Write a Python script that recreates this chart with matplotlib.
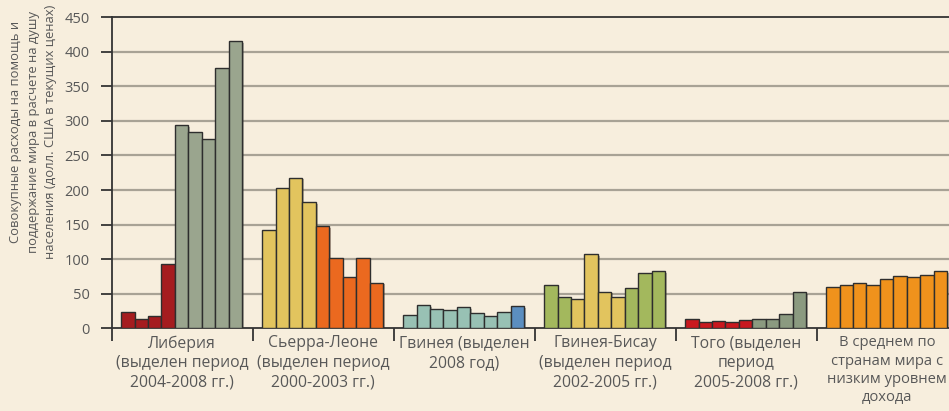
import numpy as np
import matplotlib
matplotlib.use('Agg')
import matplotlib.pyplot as plt
import matplotlib.patheffects as pe

plt.rcParams['font.family'] = ['Open Sans', 'DejaVu Sans']

# values per group (USD per capita)
liberia = [24, 13, 18, 93, 294, 284, 274, 376, 415]
sierra = [142, 203, 218, 182, 148, 101, 74, 101, 66]
guinea = [19, 33, 28, 27, 31, 22, 18, 24, 32]
bissau = [62, 45, 43, 107, 53, 45, 58, 80, 83]
togo = [13, 9, 10, 9, 12, 14, 13, 20, 52]
lowinc = [60, 62, 65, 63, 71, 75, 74, 77, 83]

groups = [liberia, sierra, guinea, bissau, togo, lowinc]
colors = [
    ['#a51c1f'] * 4 + ['#9aa58e'] * 5,
    ['#e2c45e'] * 4 + ['#eb691f'] * 5,
    ['#98c1b4'] * 8 + ['#5b8ec0'],
    ['#a3b85d'] * 2 + ['#e2c45e'] * 4 + ['#a3b85d'] * 3,
    ['#c9181f'] * 5 + ['#8b9a80'] * 4,
    ['#f0921c'] * 9,
]
labels = [
    'Либерия\n(выделен период\n2004-2008 гг.)',
    'Сьерра-Леоне\n(выделен период\n2000-2003 гг.)',
    'Гвинея (выделен\n2008 год)',
    'Гвинея-Бисау\n(выделен период\n2002-2005 гг.)',
    'Того (выделен\nпериод\n2005-2008 гг.)',
    'В среднем по\nстранам мира с\nнизким уровнем\nдохода',
]
ylab = ('Совокупные расходы на помощь и\n'
        'поддержание мира в расчете на душу\n'
        'населения (долл. США в текущих ценах)')

bg = '#f7eedd'
txt = '#585858'
gw = 10.5   # group width in bar units
off = 0.7

fig = plt.figure(figsize=(9.49, 4.11), dpi=100, facecolor=bg)
ax = fig.add_axes([0.1177, 0.2012, 0.8823, 0.757], facecolor=bg)

for g, (vals, cols) in enumerate(zip(groups, colors)):
    x = g * gw + off + np.arange(len(vals))
    bars = ax.bar(x, vals, width=1.0, align='edge', color=cols,
                  edgecolor='#2e2e2e', linewidth=1.0, zorder=3)
    for b in bars:
        b.set_path_effects([pe.SimplePatchShadow(offset=(1.2, -1.2), alpha=0.35),
                            pe.Normal()])

ax.set_xlim(0, 837.3 / 13.43)
ax.set_ylim(0, 450)
ax.set_yticks(np.arange(0, 451, 50))
for yv in range(50, 401, 50):
    ax.axhline(yv, color='#a8a295', lw=1.6, zorder=1)

ax.set_xticks([gw * k for k in range(1, 6)] + [0])
ax.set_xticklabels([])
ax.set_xticks([gw * k + gw / 2 for k in range(6)], minor=True)
tl = ax.set_xticklabels(labels, minor=True, fontsize=11.3, color=txt, linespacing=1.3)
tl[-1].set_fontsize(10.6)
ax.tick_params(axis='x', which='major', direction='out', length=9, width=1.3,
               color='#333333')
ax.tick_params(axis='x', which='minor', length=0, pad=5)
ax.tick_params(axis='y', direction='out', length=8, width=1.3, color='#333333',
               labelsize=10.5, labelcolor=txt, pad=8)

for s in ['left', 'bottom', 'top']:
    ax.spines[s].set_color('#333333')
    ax.spines[s].set_linewidth(1.3)
ax.spines['right'].set_visible(False)

fig.text(0.035, 0.68, ylab, rotation=90, ha='center', va='center',
         fontsize=9.4, color=txt, linespacing=1.45)

fig.savefig('out.png', dpi=100, facecolor=bg)
